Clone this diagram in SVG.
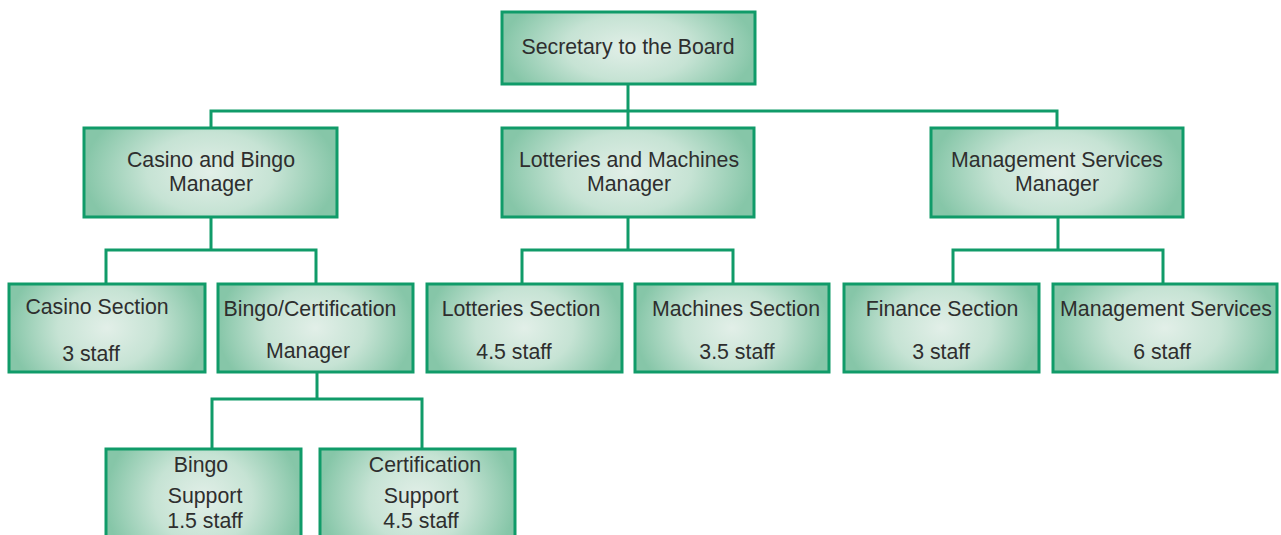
<svg xmlns="http://www.w3.org/2000/svg" width="1281" height="535" viewBox="0 0 1281 535">
  <defs>
    <radialGradient id="boxFill" cx="0.5" cy="0.5" r="0.5" gradientTransform="translate(0.5,0.5) scale(1,1.8) translate(-0.5,-0.5)">
      <stop offset="0" stop-color="#e2efe8"/>
      <stop offset="0.5" stop-color="#c6e3d4"/>
      <stop offset="1" stop-color="#86c6a8"/>
    </radialGradient>
  </defs>
  <style>
    .box { fill: url(#boxFill); stroke: #109b69; stroke-width: 3; }
    .wire { fill: none; stroke: #109b69; stroke-width: 3; }
    text { font-family: "Liberation Sans", Arial, sans-serif; font-size: 21.3px; fill: #2e2e2e; text-anchor: middle; }
  </style>
  <rect width="1281" height="535" fill="#ffffff"/>

  <!-- connectors -->
  <g id="connectors">
    <path class="wire" d="M628 84 V128 M211 128 V111 H1057 V128"/>
    <path class="wire" d="M211 217 V250 M106 284 V250 H316 V284"/>
    <path class="wire" d="M628 217 V250 M522 284 V250 H733 V284"/>
    <path class="wire" d="M1058 217 V250 M953 284 V250 H1163 V284"/>
    <path class="wire" d="M317 373 V399 M212 449 V399 H422 V449"/>
  </g>

  <!-- top level -->
  <g id="secretary">
    <rect class="box" x="502" y="12" width="253" height="72"/>
    <text x="628" y="54">Secretary to the Board</text>
  </g>

  <!-- managers -->
  <g id="casino-bingo-manager">
    <rect class="box" x="84" y="128" width="253" height="89"/>
    <text x="211" y="167">Casino and Bingo</text>
    <text x="211" y="191">Manager</text>
  </g>
  <g id="lotteries-machines-manager">
    <rect class="box" x="502" y="128" width="252" height="89"/>
    <text x="629" y="167">Lotteries and Machines</text>
    <text x="629" y="191">Manager</text>
  </g>
  <g id="management-services-manager">
    <rect class="box" x="931" y="128" width="252" height="89"/>
    <text x="1057" y="167">Management Services</text>
    <text x="1057" y="191">Manager</text>
  </g>

  <!-- sections -->
  <g id="casino-section">
    <rect class="box" x="9" y="284" width="196" height="88"/>
    <text x="97" y="314">Casino Section</text>
    <text x="91" y="361">3 staff</text>
  </g>
  <g id="bingo-certification-manager">
    <rect class="box" x="218" y="284" width="195" height="88"/>
    <text x="310" y="316">Bingo/Certification</text>
    <text x="308" y="358">Manager</text>
  </g>
  <g id="lotteries-section">
    <rect class="box" x="427" y="284" width="195" height="88"/>
    <text x="521" y="316">Lotteries Section</text>
    <text x="514" y="359">4.5 staff</text>
  </g>
  <g id="machines-section">
    <rect class="box" x="635" y="284" width="194" height="88"/>
    <text x="736" y="316">Machines Section</text>
    <text x="737" y="359">3.5 staff</text>
  </g>
  <g id="finance-section">
    <rect class="box" x="844" y="284" width="195" height="88"/>
    <text x="942" y="316">Finance Section</text>
    <text x="941" y="359">3 staff</text>
  </g>
  <g id="management-services">
    <rect class="box" x="1053" y="284" width="224" height="88"/>
    <text x="1166" y="316">Management Services</text>
    <text x="1162" y="359">6 staff</text>
  </g>

  <!-- support teams -->
  <g id="bingo-support">
    <rect class="box" x="106" y="449" width="195" height="100"/>
    <text x="201" y="472">Bingo</text>
    <text x="205" y="503">Support</text>
    <text x="205" y="528">1.5 staff</text>
  </g>
  <g id="certification-support">
    <rect class="box" x="320" y="449" width="195" height="100"/>
    <text x="425" y="472">Certification</text>
    <text x="421" y="503">Support</text>
    <text x="421" y="528">4.5 staff</text>
  </g>
</svg>
